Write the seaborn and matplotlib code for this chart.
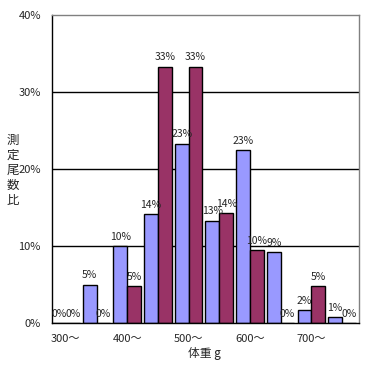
import pandas as pd
import seaborn as sns
import matplotlib.pyplot as plt

# data (percent of fish per 50 g weight class)
bins = ['300', '350', '400', '450', '500', '550', '600', '650', '700', '750']
tick_labels = ['300〜', '', '400〜', '', '500〜', '', '600〜', '', '700〜', '']
series_a = [0, 5.0, 10.0, 14.2, 23.3, 13.3, 22.5, 9.2, 1.7, 0.8]
series_b = [0, 0, 4.8, 33.3, 33.3, 14.3, 9.5, 0, 4.8, 0]

df = pd.DataFrame({
    'bin': bins * 2,
    'pct': series_a + series_b,
    'series': ['A'] * len(bins) + ['B'] * len(bins),
})

sns.set_style('white')
plt.rcParams['font.family'] = ['Noto Sans CJK JP', 'DejaVu Sans']

fig = plt.figure(figsize=(3.67, 3.67), dpi=100)
ax = fig.add_axes([0.1417, 0.1199, 0.8363, 0.8391])

sns.barplot(data=df, x='bin', y='pct', hue='series', order=bins,
            palette=['#9999FF', '#993366'], saturation=1, width=0.9, gap=0,
            edgecolor='black', linewidth=1, legend=False, ax=ax)

for c in ax.containers:
    ax.bar_label(c, fmt=lambda v: f'{int(v + 0.5)}%', padding=3, fontsize=7.5)

ax.set_ylim(0, 40)
ax.set_xlim(-0.45, 9.55)
ax.set_yticks([0, 10, 20, 30, 40])
ax.set_yticklabels(['0%', '10%', '20%', '30%', '40%'])
ax.set_xticks(range(len(bins)))
ax.set_xticklabels(tick_labels)
ax.tick_params(axis='both', length=0, labelsize=8)
ax.tick_params(axis='y', pad=8)
ax.tick_params(axis='x', pad=8)
ax.set_axisbelow(True)
for y in [10, 20, 30]:
    ax.axhline(y, color='black', lw=1, zorder=0)

for s in ['left', 'bottom']:
    ax.spines[s].set_color('black')
    ax.spines[s].set_linewidth(1)
for s in ['top', 'right']:
    ax.spines[s].set_color('#808080')
    ax.spines[s].set_linewidth(1)

ax.set_xlabel('')
ax.set_ylabel('')
fig.text(0.036, 0.535, '測\n定\n尾\n数\n比', fontsize=9, ha='center', va='center',
         linespacing=1.2)
fig.text(0.556, 0.038, '体重 g', fontsize=8.5, ha='center', va='center')

fig.savefig('out.png', dpi=100)
